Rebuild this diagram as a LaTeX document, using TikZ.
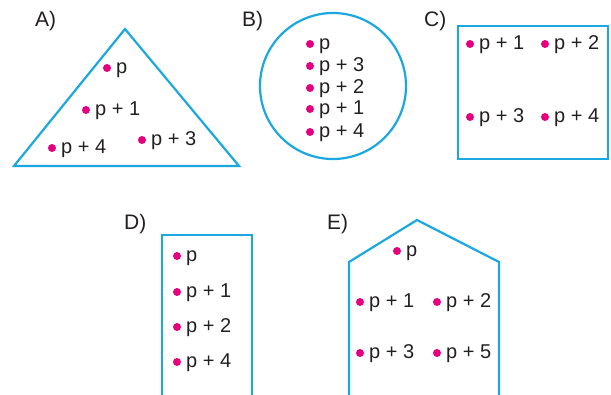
\documentclass[tikz,border=0pt]{standalone}
\usepackage{fontspec}
\setmainfont{Liberation Sans}
\definecolor{edge}{HTML}{1BA8E0}
\definecolor{dotc}{HTML}{E6007E}
\definecolor{ink}{HTML}{231F20}
\tikzset{
  shape line/.style={draw=edge, line width=2.2pt, line join=miter},
  dotmark/.style={circle, fill=dotc, inner sep=0pt, minimum size=8pt},
  lab/.style={inner sep=0pt, text=ink, font=\fontsize{20}{22}\selectfont, anchor=base west},
  title/.style={inner sep=0pt, text=ink, font=\fontsize{21}{23}\selectfont, anchor=base west},
}
\newcommand\mk[4]{\node[dotmark] (#1) at (#2,#3) {}; \node[lab] (#1t) at ([xshift=9pt,yshift=-6pt]#1.center) {#4};}
\begin{document}
\begin{tikzpicture}[x=1pt,y=-1pt]
\useasboundingbox (0,0) rectangle (611,395);
% A
\node[title] (tA) at (35,27) {A)};
\draw[shape line] (125,29) -- (239,166) -- (14,166) -- cycle;
\mk{a0}{107}{68}{p}
\mk{a1}{86}{110}{p + 1}
\mk{a4}{52}{148}{p + 4}
\mk{a3}{142}{140}{p + 3}
% B
\node[title] (tB) at (242,27) {B)};
\draw[shape line] (333,86) circle (73);
\mk{b0}{310}{44}{p}
\mk{b3}{310}{66}{p + 3}
\mk{b2}{310}{88}{p + 2}
\mk{b1}{310}{109}{p + 1}
\mk{b4}{310}{132}{p + 4}
% C
\node[title] (tC) at (424,27) {C)};
\draw[shape line] (458,26) rectangle (608,159);
\mk{c1}{470}{44}{p + 1}
\mk{c2}{545}{44}{p + 2}
\mk{c3}{470}{117}{p + 3}
\mk{c4}{545}{117}{p + 4}
% D
\node[title] (tD) at (124,230) {D)};
\draw[shape line] (162,396) -- (162,235) -- (252,235) -- (252,396);
\mk{d0}{177}{256}{p}
\mk{d1}{177}{292}{p + 1}
\mk{d2}{177}{327}{p + 2}
\mk{d4}{177}{362}{p + 4}
% E
\node[title] (tE) at (327,230) {E)};
\draw[shape line] (349,396) -- (349,262) -- (417,220) -- (499,262) -- (499,396);
\mk{e0}{397}{251}{p}
\mk{e1}{360}{302}{p + 1}
\mk{e2}{437}{302}{p + 2}
\mk{e3}{360}{353}{p + 3}
\mk{e5}{437}{353}{p + 5}
\end{tikzpicture}
\end{document}
